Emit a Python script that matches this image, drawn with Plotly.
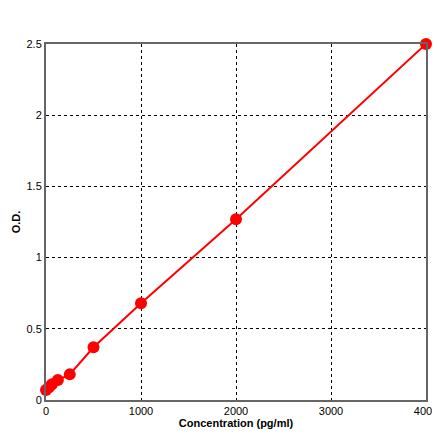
import plotly.graph_objects as go

conc = [0, 31.25, 62.5, 125, 250, 500, 1000, 2000, 4000]
od = [0.07, 0.09, 0.11, 0.14, 0.18, 0.37, 0.68, 1.27, 2.5]

fig = go.Figure()
fig.add_trace(go.Scatter(x=conc, y=od, mode="lines+markers", cliponaxis=False,
                         line=dict(color="#ff0000", width=2),
                         marker=dict(color="#ff0000", size=12)))

fig.update_layout(
    width=440, height=441,
    margin=dict(l=38, r=22, t=36, b=49),
    paper_bgcolor="white", plot_bgcolor="white",
    font=dict(family="Liberation Sans, Arial", size=11, color="black"),
    showlegend=False,
)
fig.update_xaxes(range=[0, 4000], tickvals=[0, 1000, 2000, 3000, 4000],
                 showgrid=True, gridcolor="black", griddash="3px,3px", gridwidth=1,
                 showline=True, linecolor="#666666", linewidth=2, mirror=True,
                 zeroline=False, ticks="", automargin=False,
                 title=dict(text="<b>Concentration (pg/ml)</b>", standoff=2,
                            font=dict(size=11)))
fig.update_yaxes(range=[0, 2.5], tickvals=[0, 0.5, 1, 1.5, 2, 2.5],
                 ticktext=["0", "0.5", "1", "1.5", "2", "2.5"],
                 showgrid=True, gridcolor="black", griddash="3px,3px", gridwidth=1,
                 showline=True, linecolor="#666666", linewidth=2, mirror=True,
                 zeroline=False, ticks="", automargin=False,
                 title=dict(text="<b>O.D.</b>", standoff=4, font=dict(size=11)))

fig.write_html("out.html")
